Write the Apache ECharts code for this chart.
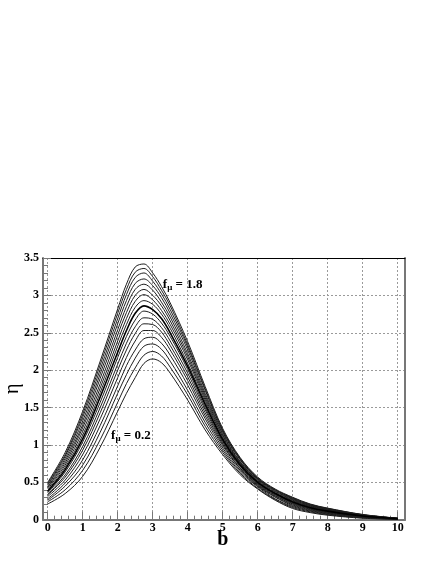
<!DOCTYPE html>
<html>
<head>
<meta charset="utf-8">
<script src="https://cdn.jsdelivr.net/npm/echarts@6/dist/echarts.min.js"></script>
<style>
html,body{margin:0;padding:0;background:#fff;}
#chart{width:442px;height:571px;}
</style>
</head>
<body>
<div id="chart"></div>
<script>
// b sample positions
var bValues = [0, 0.5, 1, 1.5, 2, 2.25, 2.5, 2.75, 3, 3.25, 3.5, 4, 4.5, 5, 5.5, 6, 6.5, 7, 7.5, 8, 9, 10];
// f_mu of each curve
var fmuValues = [0.2, 0.3, 0.4, 0.5, 0.6, 0.7, 0.8, 0.9, 1.0, 1.1, 1.2, 1.3, 1.4, 1.5, 1.6, 1.7, 1.8];
// eta values, one array per curve
var eta02 = [0.21,0.35,0.58,0.97,1.45,1.69,1.90,2.09,2.15,2.10,1.96,1.60,1.20,0.87,0.60,0.41,0.26,0.150,0.095,0.060,0.020,0.005];
var eta03 = [0.24,0.40,0.66,1.07,1.57,1.82,2.03,2.20,2.25,2.19,2.04,1.67,1.25,0.90,0.62,0.42,0.27,0.163,0.105,0.068,0.024,0.006];
var eta04 = [0.26,0.45,0.73,1.17,1.69,1.94,2.16,2.32,2.35,2.28,2.12,1.73,1.30,0.93,0.64,0.44,0.28,0.176,0.115,0.076,0.029,0.008];
var eta05 = [0.28,0.49,0.80,1.26,1.79,2.06,2.27,2.42,2.44,2.36,2.20,1.80,1.35,0.96,0.66,0.45,0.30,0.188,0.124,0.084,0.033,0.009];
var eta06 = [0.31,0.53,0.87,1.35,1.90,2.17,2.39,2.53,2.53,2.44,2.27,1.86,1.39,0.99,0.68,0.46,0.31,0.199,0.133,0.091,0.036,0.010];
var eta07 = [0.33,0.57,0.93,1.43,2.00,2.27,2.49,2.62,2.61,2.51,2.33,1.91,1.43,1.01,0.69,0.47,0.32,0.210,0.141,0.098,0.040,0.011];
var eta08 = [0.34,0.60,0.98,1.50,2.08,2.36,2.58,2.70,2.68,2.57,2.39,1.96,1.47,1.03,0.71,0.48,0.33,0.219,0.148,0.104,0.043,0.012];
var eta09 = [0.36,0.64,1.04,1.57,2.17,2.45,2.67,2.79,2.75,2.63,2.45,2.01,1.50,1.05,0.72,0.49,0.34,0.228,0.155,0.110,0.046,0.013];
var eta10 = [0.38,0.67,1.08,1.64,2.24,2.53,2.76,2.86,2.81,2.69,2.50,2.05,1.54,1.07,0.73,0.50,0.35,0.237,0.161,0.115,0.049,0.014];
var eta11 = [0.39,0.70,1.13,1.70,2.32,2.61,2.84,2.93,2.88,2.75,2.56,2.09,1.57,1.09,0.75,0.51,0.35,0.245,0.168,0.120,0.052,0.014];
var eta12 = [0.41,0.73,1.18,1.76,2.39,2.69,2.92,3.01,2.94,2.80,2.61,2.14,1.60,1.11,0.76,0.52,0.36,0.253,0.174,0.125,0.054,0.015];
var eta13 = [0.43,0.76,1.23,1.82,2.47,2.77,3.00,3.08,3.00,2.86,2.66,2.18,1.63,1.13,0.77,0.53,0.37,0.261,0.180,0.130,0.057,0.016];
var eta14 = [0.44,0.79,1.27,1.89,2.54,2.85,3.08,3.15,3.07,2.91,2.71,2.22,1.66,1.15,0.78,0.54,0.38,0.270,0.187,0.136,0.060,0.017];
var eta15 = [0.46,0.82,1.32,1.95,2.62,2.93,3.16,3.22,3.13,2.97,2.76,2.27,1.69,1.17,0.80,0.55,0.39,0.278,0.193,0.141,0.063,0.018];
var eta16 = [0.47,0.85,1.37,2.01,2.69,3.01,3.24,3.30,3.19,3.02,2.81,2.31,1.73,1.19,0.81,0.55,0.40,0.286,0.199,0.146,0.065,0.019];
var eta17 = [0.49,0.87,1.41,2.07,2.76,3.08,3.31,3.36,3.25,3.07,2.86,2.34,1.75,1.20,0.82,0.56,0.40,0.293,0.205,0.151,0.068,0.019];
var eta18 = [0.50,0.90,1.45,2.12,2.82,3.15,3.38,3.42,3.30,3.12,2.90,2.38,1.78,1.22,0.83,0.57,0.41,0.300,0.210,0.155,0.070,0.020];
var curves = [eta02,eta03,eta04,eta05,eta06,eta07,eta08,eta09,eta10,eta11,eta12,eta13,eta14,eta15,eta16,eta17,eta18];
// axis ticks
var xTicks = [0,1,2,3,4,5,6,7,8,9,10];
var yTicks = [0,0.5,1,1.5,2,2.5,3,3.5];
// annotations: [label, b, eta]
var annoHigh = ['1.8', 3.29, 3.15];
var annoLow = ['0.2', 1.81, 1.13];

var serif = '"Liberation Serif","DejaVu Serif",serif';
var gridColor = '#9a9a9a';
var frameGray = '#777777';

var series = curves.map(function (vals, i) {
  var bold = fmuValues[i] === 1.0;
  return {
    type: 'line',
    name: 'f = ' + fmuValues[i],
    xAxisIndex: 2,
    yAxisIndex: 2,
    data: vals.map(function (v, k) { return [bValues[k], v]; }),
    smooth: 0.35,
    showSymbol: false,
    symbol: 'none',
    silent: true,
    z: bold ? 5 : 3,
    lineStyle: { color: bold ? '#000' : '#1e1e1e', width: bold ? 1.6 : 1 }
  };
});

function anno(a) {
  return {
    symbol: 'circle', symbolSize: 0,
    coord: [a[1], a[2]],
    label: {
      show: true, position: 'right', distance: 0,
      formatter: '{f|f}{s|\u03bc}{f| = ' + a[0] + '}',
      rich: {
        f: { fontFamily: serif, fontWeight: 'bold', fontSize: 13, color: '#000', lineHeight: 18 },
        s: { fontFamily: serif, fontWeight: 'bold', fontSize: 9, color: '#000', lineHeight: 18, padding: [7, 0, 0, 0] }
      }
    }
  };
}
series.push({
  type: 'line', xAxisIndex: 2, yAxisIndex: 2, data: [], silent: true,
  markPoint: { silent: true, data: [anno(annoHigh), anno(annoLow)] }
});

var option = {
  backgroundColor: '#fff',
  animation: false,
  grid: [
    { left: 43, right: 37, top: 258, bottom: 51.3, containLabel: false, outerBoundsMode: 'none' },
    { left: 47.7, right: 44.3, top: 258, bottom: 51.3, containLabel: false, outerBoundsMode: 'none' }
  ],
  xAxis: [
    { gridIndex: 0, type: 'value', position: 'bottom', min: 0, max: 1,
      axisLine: { show: true, onZero: false, lineStyle: { color: frameGray, width: 2 } },
      axisTick: { show: false }, axisLabel: { show: false }, splitLine: { show: false } },
    { gridIndex: 0, type: 'value', position: 'top', min: 0, max: 1,
      axisLine: { show: true, onZero: false, lineStyle: { color: '#000', width: 1 } },
      axisTick: { show: false }, axisLabel: { show: false }, splitLine: { show: false } },
    { gridIndex: 1, type: 'value', position: 'bottom', min: xTicks[0], max: xTicks[xTicks.length - 1], interval: 1,
      name: 'b', nameLocation: 'middle', nameGap: 10, nameMoveOverlap: false,
      nameTextStyle: { fontFamily: serif, fontWeight: 'bold', fontSize: 20, color: '#000', verticalAlign: 'top' },
      axisLine: { show: false, onZero: false },
      axisTick: { show: true, inside: true, length: 8, lineStyle: { color: frameGray } },
      minorTick: { show: true, splitNumber: 5, length: 4, lineStyle: { color: frameGray } },
      axisLabel: { show: true, margin: 2, fontFamily: serif, fontWeight: 'bold', fontSize: 12, color: '#000' },
      splitLine: { show: true, lineStyle: { color: gridColor, type: [2, 2], width: 1 } } }
  ],
  yAxis: [
    { gridIndex: 0, type: 'value', position: 'left', min: yTicks[0], max: yTicks[yTicks.length - 1], interval: 0.5,
      name: '\u03b7', nameLocation: 'middle', nameGap: 20, nameRotate: 90, nameMoveOverlap: false,
      nameTextStyle: { fontFamily: serif, fontSize: 20, color: '#000' },
      axisLine: { show: true, onZero: false, lineStyle: { color: frameGray, width: 2 } },
      axisTick: { show: true, inside: true, length: 8, lineStyle: { color: frameGray } },
      minorTick: { show: true, splitNumber: 5, length: 5, lineStyle: { color: frameGray } },
      axisLabel: { show: true, margin: 4, fontFamily: serif, fontWeight: 'bold', fontSize: 12, color: '#000' },
      splitLine: { show: true, lineStyle: { color: gridColor, type: [2, 2], width: 1 } } },
    { gridIndex: 0, type: 'value', position: 'right', min: 0, max: 3.5,
      axisLine: { show: true, onZero: false, lineStyle: { color: frameGray, width: 2 } },
      axisTick: { show: false }, axisLabel: { show: false }, splitLine: { show: false } },
    { gridIndex: 1, type: 'value', min: 0, max: 3.5, show: false }
  ],
  series: series
};

var chart = echarts.init(document.getElementById('chart'), null, { renderer: 'canvas' });
chart.setOption(option);
</script>
</body>
</html>
